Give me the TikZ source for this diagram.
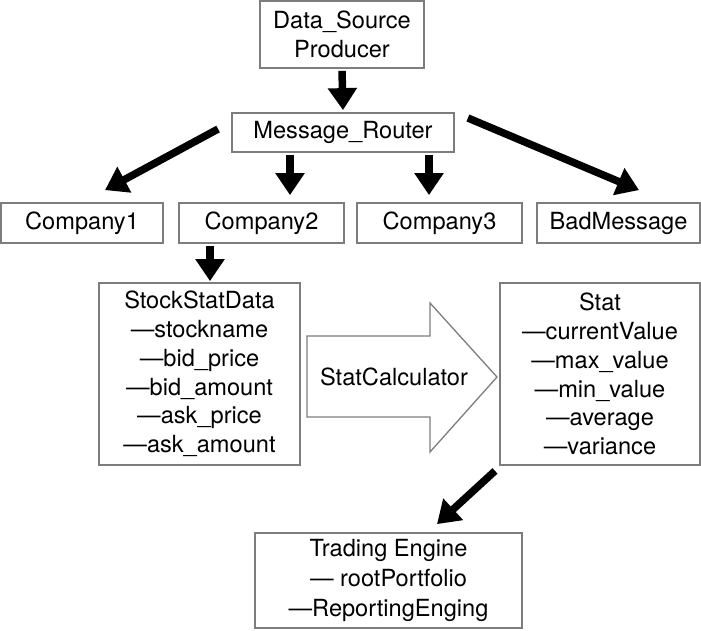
\documentclass[tikz,border=0pt]{standalone}
\usepackage{fontspec}
\setmainfont{TeX Gyre Heros}
\usetikzlibrary{arrows.meta,calc}
\definecolor{boxgray}{RGB}{125,125,125}
\begin{document}
\begin{tikzpicture}[x=1pt,y=-1pt,
  box/.style={draw=boxgray,line width=1.8pt,inner sep=0pt,align=center,
    font=\fontsize{23.6}{28.8}\selectfont},
  arr/.style={line width=7.5pt,draw=black,-{Triangle[width=28pt,length=22pt]}}]
\useasboundingbox (0,0) rectangle (701,630);
\node[box,minimum width=164pt,minimum height=67pt] (ds) at (342,34.5) {Data\_Source\\Producer};
\node[box,minimum width=222pt,minimum height=39pt] (mr) at (343,132.5) {Message\_Router};
\node[box,minimum width=162pt,minimum height=40pt] (c1) at (82,223) {Company1};
\node[box,minimum width=165pt,minimum height=40pt] (c2) at (261.5,223) {Company2};
\node[box,minimum width=165pt,minimum height=40pt] (c3) at (439.5,223) {Company3};
\node[box,minimum width=163pt,minimum height=40pt] (bad) at (618.5,223) {BadMessage};
\node[box,minimum width=201pt,minimum height=182pt] (ssd) at (199.5,374) {StockStatData\\—stockname\\—bid\_price\\—bid\_amount\\—ask\_price\\—ask\_amount};
\node[box,minimum width=200pt,minimum height=182pt] (stat) at (600,374) {Stat\\—currentValue\\—max\_value\\—min\_value\\—average\\—variance};
\node[box,minimum width=267pt,minimum height=95pt,font=\fontsize{23.6}{30}\selectfont] (te) at (388.5,580.5) {Trading Engine\\— rootPortfolio\\—ReportingEnging};
% big outlined arrow
\draw[boxgray,line width=1.3pt,line join=miter]
  (307,336) -- (430,336) -- (430,303) -- (497,377) -- (430,452) -- (430,417) -- (307,417) -- cycle;
\node[font=\fontsize{23.6}{28.8}\selectfont] (calc) at (394,377) {StatCalculator};
% arrows
\draw[arr] ([yshift=-2pt]ds.south) -- ([yshift=2pt]mr.north);
\draw[arr] ([xshift=-53pt,yshift=-2pt]mr.south) -- ([xshift=28.5pt,yshift=7pt]c2.north);
\draw[arr] ([xshift=86pt,yshift=-2pt]mr.south) -- ([xshift=-10.5pt,yshift=7pt]c3.north);
\draw[arr] ([xshift=-13pt,yshift=3.5pt]mr.west) -- ([xshift=23pt,yshift=12pt]c1.north);
\draw[arr] ([xshift=13pt,yshift=14.5pt]mr.east) -- ([xshift=20.5pt,yshift=12pt]bad.north);
\draw[arr] ([xshift=-51.5pt,yshift=-2pt]c2.south) -- ([xshift=10.5pt,yshift=1pt]ssd.north);
\draw[arr] ([xshift=-105pt,yshift=-5pt]stat.south) -- ([xshift=48.5pt,yshift=8pt]te.north);
\end{tikzpicture}
\end{document}
